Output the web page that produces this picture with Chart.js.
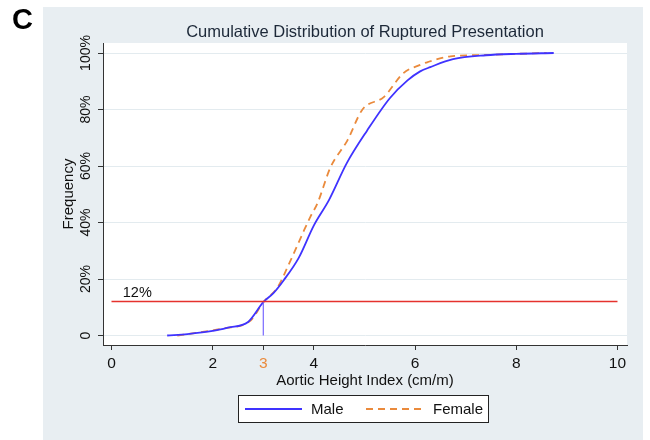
<!DOCTYPE html>
<html>
<head>
<meta charset="utf-8">
<script src="https://cdn.jsdelivr.net/npm/chart.js@4.4.1/dist/chart.umd.min.js"></script>
<style>
  html, body { margin: 0; padding: 0; background: #fff; }
  canvas { display: block; }
</style>
</head>
<body>
<canvas id="cdf" width="650" height="440"></canvas>
<script>
// values
const maleX = [1.1, 1.5, 2.0, 2.3, 2.7, 3.0, 3.2, 3.4, 3.7, 4.0, 4.3, 4.65, 5.05, 5.5, 5.85, 6.1, 6.3, 6.75, 7.4, 8.0, 8.74];
const maleY = [0, 0.5, 1.6, 2.8, 4.8, 11.8, 15, 19.5, 27.5, 39, 48, 61, 72.5, 84, 90.3, 93.5, 95, 97.8, 99.2, 99.7, 100];
const femaleX = [1.3, 1.7, 2.2, 2.75, 3.0, 3.28, 3.54, 3.8, 3.93, 4.07, 4.33, 4.66, 4.96, 5.38, 5.77, 6.1, 6.25, 6.7, 7.4, 8.0, 8.6];
const femaleY = [0, 1.0, 2.5, 5.3, 11.8, 17, 26.6, 37, 42, 46.8, 59.6, 69, 80, 84.4, 92.9, 95.8, 96.8, 98.8, 99.3, 99.7, 100];
const cutoffX = [0, 10];
const cutoffY = [12, 12];
const markerX = [3, 3];
const markerY = [0, 12];
const xTicks = [0, 2, 3, 4, 6, 8, 10];
const yTicks = [0, 20, 40, 60, 80, 100];
const seriesNames = ["Male", "Female"];

const FONT = '"Liberation Sans", Arial, Helvetica, sans-serif';
const BLUE = "#3f33ff";
const ORANGE = "#ea8a3c";
const RED = "#e5322d";

function pts(xs, ys) {
  return xs.map((x, i) => ({ x, y: ys[i] }));
}

const decor = {
  id: "decor",
  beforeDraw(chart) {
    const ctx = chart.ctx, a = chart.chartArea;
    ctx.save();
    ctx.fillStyle = "#fff";
    ctx.fillRect(0, 0, chart.width, chart.height);
    ctx.fillStyle = "#e8eef2";
    ctx.fillRect(43, 7, 600, 433);
    ctx.fillStyle = "#fff";
    ctx.fillRect(a.left, a.top, a.right - a.left, a.bottom - a.top);
    ctx.restore();
  },
  afterDraw(chart) {
    const ctx = chart.ctx, a = chart.chartArea;
    const xs = chart.scales.x, ys = chart.scales.y;
    ctx.save();
    // panel letter
    ctx.fillStyle = "#000";
    ctx.font = "bold 29px " + FONT;
    ctx.textBaseline = "middle";
    ctx.textAlign = "left";
    ctx.fillText("C", 12, 21);
    // title
    ctx.fillStyle = "#1c2838";
    ctx.font = "16.5px " + FONT;
    ctx.textAlign = "center";
    ctx.fillText("Cumulative Distribution of Ruptured Presentation", (a.left + a.right) / 2, 32);
    // y tick labels, rotated like the original
    ctx.fillStyle = "#111";
    ctx.font = "14px " + FONT;
    yTicks.forEach(v => {
      ctx.save();
      ctx.translate(86, ys.getPixelForValue(v));
      ctx.rotate(-Math.PI / 2);
      ctx.fillText(v === 0 ? "0" : v + "%", 0, 0);
      ctx.restore();
    });
    // y title
    ctx.save();
    ctx.font = "15px " + FONT;
    ctx.translate(69, (a.top + a.bottom) / 2);
    ctx.rotate(-Math.PI / 2);
    ctx.fillText("Frequency", 0, 0);
    ctx.restore();
    // 12% label
    ctx.font = "14.5px " + FONT;
    ctx.fillText("12%", xs.getPixelForValue(0.51), ys.getPixelForValue(15.2));
    // legend
    const lx = 238.5, ly = 395.5, lw = 250, lh = 27;
    ctx.fillStyle = "#fff";
    ctx.fillRect(lx, ly, lw, lh);
    ctx.strokeStyle = "#222";
    ctx.lineWidth = 1;
    ctx.strokeRect(lx, ly, lw, lh);
    const my = ly + lh / 2;
    ctx.lineWidth = 1.8;
    ctx.strokeStyle = BLUE;
    ctx.beginPath(); ctx.moveTo(245, my); ctx.lineTo(302, my); ctx.stroke();
    ctx.strokeStyle = ORANGE;
    ctx.setLineDash([7, 5]);
    ctx.beginPath(); ctx.moveTo(366, my); ctx.lineTo(424, my); ctx.stroke();
    ctx.setLineDash([]);
    ctx.fillStyle = "#111";
    ctx.textAlign = "left";
    ctx.font = "15px " + FONT;
    ctx.fillText(seriesNames[0], 311, my + 1);
    ctx.fillText(seriesNames[1], 433, my + 1);
    ctx.restore();
  }
};

new Chart(document.getElementById("cdf"), {
  type: "line",
  data: {
    datasets: [
      { label: "cutoff", data: pts(cutoffX, cutoffY), borderColor: RED, borderWidth: 1.5 },
      { label: "marker", data: pts(markerX, markerY), borderColor: "#7868ff", borderWidth: 1.2 },
      { label: seriesNames[0], data: pts(maleX, maleY), borderColor: BLUE, borderWidth: 1.8, cubicInterpolationMode: "monotone" },
      { label: seriesNames[1], data: pts(femaleX, femaleY), borderColor: ORANGE, borderWidth: 1.8, borderDash: [7, 5], cubicInterpolationMode: "monotone" }
    ]
  },
  options: {
    responsive: false,
    animation: false,
    events: [],
    elements: { point: { radius: 0 }, line: { tension: 0, fill: false } },
    layout: { padding: { left: 44, right: 23, top: 43, bottom: 50 } },
    plugins: { legend: { display: false }, title: { display: false }, tooltip: { enabled: false } },
    scales: {
      x: {
        type: "linear",
        min: -0.168,
        max: 10.188,
        afterBuildTicks(scale) { scale.ticks = xTicks.map(v => ({ value: v })); },
        afterFit(scale) { scale.height = 45; },
        ticks: {
          autoSkip: false,
          maxRotation: 0,
          padding: 4,
          font: { family: FONT, size: 15.5 },
          color: c => (c.tick && c.tick.value === 3 ? ORANGE : "#111")
        },
        grid: { drawOnChartArea: false, tickLength: 5, tickColor: "#333" },
        border: { color: "#333", width: 1 },
        title: {
          display: true,
          text: "Aortic Height Index (cm/m)",
          color: "#111",
          font: { family: FONT, size: 15 },
          padding: { top: 0, bottom: 0 }
        }
      },
      y: {
        type: "linear",
        min: -3.36,
        max: 103.54,
        afterBuildTicks(scale) { scale.ticks = yTicks.map(v => ({ value: v })); },
        afterFit(scale) { scale.width = 59; },
        ticks: { display: false },
        grid: { color: "#e3ebef", tickLength: 5, tickColor: "#333" },
        border: { color: "#333", width: 1 }
      }
    }
  },
  plugins: [decor]
});
</script>
</body>
</html>
